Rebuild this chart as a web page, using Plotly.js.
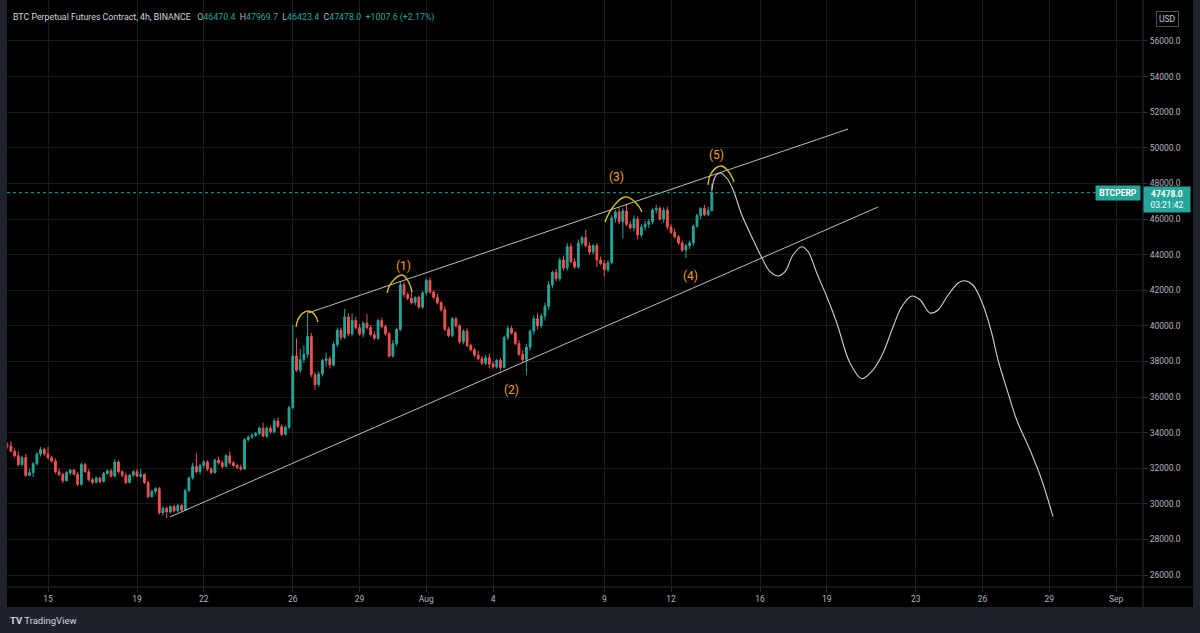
<!DOCTYPE html>
<html>
<head>
<meta charset="utf-8">
<script src="https://cdn.plot.ly/plotly-3.0.1.min.js"></script>
<style>html,body{margin:0;padding:0;background:#1e222d;}#chart{width:1200px;height:633px;}</style>
</head>
<body>
<div id="chart"></div>
<script>
// ---- Data (4h candles, BTC Perpetual, Binance) ----
const barStartUTC = '2021-07-13T04:00:00Z';
const openP = [33300,33250,32950,32700,32200,32600,31600,31750,32250,32800,33050,32800,32600,32400,31800,31650,31300,31750,31900,31650,
31100,32200,31800,31350,31200,31450,31250,31700,31850,31550,32350,31800,31600,31200,31600,31800,31550,31650,31200,30400,
30700,30850,29500,29750,29550,29850,29600,29900,29650,30750,31450,32100,31800,32150,32350,31950,31750,32450,32300,32100,
32700,32300,32150,32050,31950,33600,33750,33850,33950,34250,33800,34250,34050,34650,34350,33900,34300,35400,38300,37500,
38100,38400,39400,37250,36700,37300,38050,38150,37800,38950,39750,39350,40500,39550,40300,39900,39550,40150,39900,39500,
39300,40300,39950,39550,38300,39000,39800,42300,41750,41550,41300,41600,41050,41850,42550,41900,41600,41300,40900,39800,
39450,40400,40000,39100,39700,38900,38650,38350,38150,37900,38200,37850,37700,38050,37650,39350,39850,39600,39000,38400,
38100,38800,39700,40400,40000,40550,41100,42300,43000,42650,43700,43250,44450,43600,43300,44650,44950,44500,44150,44500,
43700,43500,43150,43550,46050,46400,45850,46450,45700,45500,46000,45100,45550,45700,45850,46500,46600,46000,46500,45550,
45250,45000,44650,44250,44500,44650,45600,46200,46600,46250,46470.4];
const highP = [33450,33500,33100,32950,32700,32800,31950,32350,32900,33200,33150,33200,32700,32550,32000,31750,31850,31950,31950,31800,
32300,32300,31950,31450,31550,31500,31800,31950,31950,32500,32450,31900,31750,31700,31900,31950,31950,31700,31300,30800,
30950,30950,29850,29850,29900,29950,30000,30000,30850,31550,32300,32850,32250,32450,32450,32050,32550,32650,32450,32800,
32950,32400,32250,32200,33700,33850,33950,34050,34350,34550,34350,34400,34800,34850,34450,34400,35500,40050,39300,38700,
38900,40750,39600,37400,37450,38150,38500,38300,39100,39900,39900,40950,40700,40700,40500,40100,40250,40650,40050,39700,
40400,40450,40050,39650,39200,39900,42450,42450,41900,41900,41650,41700,41950,42650,42700,42000,41800,41400,41100,39950,
40500,40500,40100,39800,39850,39000,38750,38600,38300,38350,38450,38000,38150,38200,39450,40000,40000,39700,39200,38600,
39000,39800,40600,40700,40700,41300,42500,43100,43200,43850,43950,44650,44650,43800,44850,45050,45400,44700,44600,44650,
43900,43700,43700,46200,46500,46650,46600,46800,45900,46200,46150,45700,45900,46000,46600,46800,46700,46650,46700,45700,
45450,45100,44800,44600,44800,45700,46300,46650,46800,46700,47969.7];
const lowP = [33100,32900,32600,32100,32100,31500,31550,31500,32150,32650,32700,32500,32300,31700,31550,31150,31250,31600,31600,31000,
31000,31750,31250,31100,31150,31150,31200,31600,31500,31500,31700,31500,31100,31150,31500,31500,31450,31100,30300,30350,
30550,29400,29350,29200,29450,29500,29500,29550,29600,30650,31350,31700,31650,32000,31850,31650,31700,32200,32000,32050,
32200,32050,31950,31850,31900,33500,33650,33750,33850,33750,33700,33950,33950,34250,33800,33850,34200,35300,37400,37350,
37900,38200,37100,36400,36550,37150,37700,37600,37700,38800,39200,39250,39400,39400,39800,39450,39350,39800,39400,39200,
39200,39850,39450,38200,38200,38850,39700,41600,41450,41200,41150,40950,40950,41700,41800,41500,41200,40800,39700,39350,
39350,39900,39000,38950,38800,38550,38250,38050,37800,37800,37600,37600,37600,37500,37600,39200,39500,38900,38300,37900,
37250,38600,39500,39800,39900,40300,40900,42100,42500,42500,43100,43100,43500,43200,43200,44500,44400,44000,44000,43300,
43400,42750,43000,43450,45800,45700,44900,45600,45400,45300,44850,44950,45350,45500,45700,46300,45900,45800,45400,45150,
44900,44550,44150,43800,44300,44500,45500,46000,46150,46150,46423.4];
const closeP = [33250,32950,32700,32200,32600,31600,31750,32250,32800,33050,32800,32600,32400,31800,31650,31300,31750,31900,31650,31100,
32200,31800,31350,31200,31450,31250,31700,31850,31550,32350,31800,31600,31200,31600,31800,31550,31650,31200,30400,30700,
30850,29500,29750,29550,29850,29600,29900,29650,30750,31450,32100,31800,32150,32350,31950,31750,32450,32300,32100,32700,
32300,32150,32050,31950,33600,33750,33850,33950,34250,33800,34250,34050,34650,34350,33900,34300,35400,38300,37500,38100,
38400,39400,37250,36700,37300,38050,38150,37800,38950,39750,39350,40500,39550,40300,39900,39550,40150,39900,39500,39300,
40300,39950,39550,38300,39000,39800,42300,41750,41550,41300,41600,41050,41850,42550,41900,41600,41300,40900,39800,39450,
40400,40000,39100,39700,38900,38650,38350,38150,37900,38200,37850,37700,38050,37650,39350,39850,39600,39000,38400,38100,
38800,39700,40400,40000,40550,41100,42300,43000,42650,43700,43250,44450,43600,43300,44650,44950,44500,44150,44500,43700,
43500,43150,43550,46050,46400,45850,46450,45700,45500,46000,45100,45550,45700,45850,46500,46600,46000,46500,45550,45250,
45000,44650,44250,44500,44650,45600,46200,46600,46250,46470.4,47478.0];

// Drawn projection path (freehand)
const projTime = ['2021-08-13 20:00','2021-08-13 23:30','2021-08-14 04:50','2021-08-14 12:00','2021-08-14 19:00','2021-08-15 04:20','2021-08-15 15:00','2021-08-16 02:00','2021-08-16 10:50','2021-08-16 19:30','2021-08-17 03:00','2021-08-17 11:30','2021-08-17 21:00','2021-08-18 03:50','2021-08-18 13:10','2021-08-19 00:00','2021-08-19 10:50','2021-08-19 19:40','2021-08-20 01:00','2021-08-20 13:40','2021-08-21 01:50','2021-08-21 12:40','2021-08-21 23:30','2021-08-22 08:50','2021-08-22 19:40','2021-08-23 04:40','2021-08-23 15:20','2021-08-24 00:00','2021-08-24 10:50','2021-08-24 21:40','2021-08-25 05:00','2021-08-25 13:40','2021-08-26 00:30','2021-08-26 09:50','2021-08-26 16:40','2021-08-27 03:30','2021-08-27 12:50','2021-08-28 03:10','2021-08-28 15:50','2021-08-29 04:00'];
const projPrice = [47600,48360,48584,48303,47629,46225,45006,43809,43039,42798,43039,43977,44444,44163,42966,41635,40157,38640,37910,37028,37517,38472,39950,41073,41674,41449,40719,40888,41730,42404,42533,42292,41168,39595,38078,36225,34708,33023,31337,29276];

// Channel lines
const upperTime = ['2021-07-26 16:30','2021-08-19 23:00'];
const upperPrice = [40719,51056];
const lowerTime = ['2021-07-20 11:30','2021-08-21 07:15'];
const lowerPrice = [29258,46674];

// Yellow arcs
const arcTimes = [
 ['2021-07-26 03:30','2021-07-26 07:50','2021-07-26 16:30','2021-07-26 23:00','2021-07-27 03:10'],
 ['2021-07-30 05:40','2021-07-30 11:00','2021-07-30 21:50','2021-07-31 04:20','2021-07-31 08:40'],
 ['2021-08-09 00:50','2021-08-09 09:20','2021-08-09 22:20','2021-08-10 09:10','2021-08-10 16:40'],
 ['2021-08-13 15:50','2021-08-13 20:10','2021-08-14 06:00','2021-08-14 13:30','2021-08-14 20:00']
];
const arcPrices = [
 [39933,40551,40831,40663,40214],
 [41843,42461,42854,42517,41899],
 [45831,46674,47236,46955,46393],
 [47910,48640,48978,48697,48079]
];

// Wave labels
const waveText = ['(1)','(2)','(3)','(4)','(5)'];
const waveTime = ['2021-07-30 23:00','2021-08-04 19:30','2021-08-09 12:40','2021-08-12 20:30','2021-08-14 00:30'];
const wavePrice = [43360,36393,48360,42798,49595];

// Axis ticks
const xTickVals = ['2021-07-15','2021-07-19','2021-07-22','2021-07-26','2021-07-29','2021-08-01','2021-08-04','2021-08-09','2021-08-12','2021-08-16','2021-08-19','2021-08-23','2021-08-26','2021-08-29','2021-09-01'];
const xTickText = ['15','19','22','26','29','Aug','4','9','12','16','19','23','26','29','Sep'];
const yTickVals = [26000,28000,30000,32000,34000,36000,38000,40000,42000,44000,46000,48000,50000,52000,54000,56000];

const lastPrice = 47478.0;
const header = {name:'BTC Perpetual Futures Contract, 4h, BINANCE', o:'46470.4', h:'47969.7', l:'46423.4', c:'47478.0', chg:'+1007.6 (+2.17%)'};

// ---- Build ----
const t0 = new Date(barStartUTC).getTime();
const barTime = closeP.map((_, i) => new Date(t0 + i*4*3600*1000).toISOString().slice(0,16).replace('T',' '));

const UP = '#26a69a', DN = '#ef5350';
const FONT = 'Roboto, "Liberation Sans", Arial, sans-serif';

const traces = [];
traces.push({
  type:'candlestick', x:barTime, open:openP, high:highP, low:lowP, close:closeP,
  increasing:{line:{color:UP,width:1},fillcolor:UP},
  decreasing:{line:{color:DN,width:1},fillcolor:DN},
  whiskerwidth:0, showlegend:false, hoverinfo:'skip'
});
const lineCol = '#bdbdbd';
traces.push({type:'scatter',mode:'lines',x:upperTime,y:upperPrice,line:{color:lineCol,width:1},showlegend:false,hoverinfo:'skip'});
traces.push({type:'scatter',mode:'lines',x:lowerTime,y:lowerPrice,line:{color:lineCol,width:1},showlegend:false,hoverinfo:'skip'});
traces.push({type:'scatter',mode:'lines',x:projTime,y:projPrice,line:{color:'#cfcfcf',width:1.1,shape:'spline',smoothing:1},showlegend:false,hoverinfo:'skip'});
arcTimes.forEach((t,k)=>{
  traces.push({type:'scatter',mode:'lines',x:t,y:arcPrices[k],line:{color:'#dcc020',width:1.3,shape:'spline',smoothing:1.3},showlegend:false,hoverinfo:'skip'});
});

// pixel helpers for paper-referenced decorations
const L=7, R=57, T=0, B=46, W=1200, H=633;
const pw = W-L-R, ph = H-T-B;
const px = x => (x-L)/pw;
const py = y => 1-(y-T)/ph;

const annotations = [];
waveText.forEach((s,k)=>{
  annotations.push({x:waveTime[k],y:wavePrice[k],xref:'x',yref:'y',text:s,showarrow:false,
    font:{family:FONT,size:12,color:'#f5a022'}});
});
const g = '#b2b5be';
annotations.push({xref:'paper',yref:'paper',x:px(11),y:py(17),xanchor:'left',yanchor:'middle',showarrow:false,align:'left',
  text:`<span style="color:#d1d4dc">${header.name}</span>&nbsp;&nbsp;&nbsp;<span style="color:${g}">O</span><span style="color:${UP}">${header.o}</span>&nbsp;&nbsp;<span style="color:${g}">H</span><span style="color:${UP}">${header.h}</span>&nbsp;&nbsp;<span style="color:${g}">L</span><span style="color:${UP}">${header.l}</span>&nbsp;&nbsp;<span style="color:${g}">C</span><span style="color:${UP}">${header.c}</span>&nbsp;&nbsp;<span style="color:${UP}">${header.chg}</span>`,
  font:{family:FONT,size:8.8,color:'#d1d4dc'}});
annotations.push({xref:'paper',yref:'paper',x:px(1167),y:py(19),xanchor:'center',yanchor:'middle',showarrow:false,text:'USD',
  font:{family:FONT,size:8.5,color:'#c3c6ce'},bordercolor:'#4a4e5a',borderwidth:1,borderpad:2,bgcolor:'#000'});
annotations.push({xref:'paper',yref:'paper',x:px(1141),y:py(192.5),xanchor:'right',yanchor:'middle',showarrow:false,text:'<b>BTCPERP</b>',
  font:{family:FONT,size:8.5,color:'#ffffff'},bgcolor:UP,borderpad:2,width:40});
annotations.push({xref:'paper',yref:'paper',x:px(1143),y:py(186),xanchor:'left',yanchor:'top',showarrow:false,align:'center',
  text:'<b>'+lastPrice.toFixed(1)+'</b><br>03:21:42',width:42,
  font:{family:FONT,size:8.5,color:'#ffffff'},bgcolor:UP,borderpad:2});
annotations.push({xref:'paper',yref:'paper',x:px(8),y:py(620),xanchor:'left',yanchor:'middle',showarrow:false,
  text:'<b>TV</b> TradingView',font:{family:FONT,size:9.5,color:'#d1d4dc'}});

const shapes = [
  {type:'rect',xref:'paper',yref:'paper',x0:0,x1:px(1193),y0:py(607),y1:py(0),fillcolor:'#000',line:{width:0},layer:'below'},
  {type:'line',xref:'paper',yref:'paper',x0:1,x1:1,y0:py(607),y1:py(0),line:{color:'#2a2e39',width:1}},
  {type:'line',xref:'paper',yref:'paper',x0:0,x1:px(1193),y0:0,y1:0,line:{color:'#2a2e39',width:1}},
  {type:'line',xref:'paper',yref:'y',x0:0,x1:px(1097),y0:lastPrice,y1:lastPrice,line:{color:UP,width:1,dash:'dot'}}
];

const layout = {
  width:W,height:H,margin:{l:L,r:R,t:T,b:B,pad:0},
  paper_bgcolor:'#1e222d',plot_bgcolor:'#000',
  showlegend:false,dragmode:false,
  font:{family:FONT,color:g},
  xaxis:{type:'date',range:['2021-07-13 03:47','2021-09-02 05:02'],tickmode:'array',tickvals:xTickVals,ticktext:xTickText,
    showgrid:true,gridcolor:'#1a1a1d',gridwidth:1,zeroline:false,showline:false,ticks:'outside',ticklen:4,tickcolor:'#2a2e39',
    tickfont:{family:FONT,size:8.5,color:g},rangeslider:{visible:false},fixedrange:true},
  yaxis:{side:'right',range:[25326,58303],tickmode:'array',tickvals:yTickVals,ticktext:yTickVals.map(v=>v.toFixed(1)),
    showgrid:true,gridcolor:'#1a1a1d',gridwidth:1,zeroline:false,showline:false,ticks:'outside',ticklen:4,tickcolor:'#2a2e39',
    tickfont:{family:FONT,size:8.5,color:g},fixedrange:true},
  annotations:annotations,shapes:shapes
};

Plotly.newPlot('chart',traces,layout,{staticPlot:true,displayModeBar:false});
</script>
</body>
</html>
